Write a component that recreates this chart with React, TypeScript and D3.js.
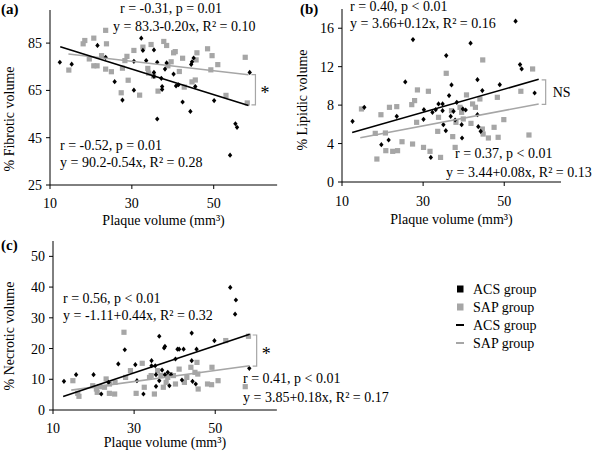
import React from 'react';
import * as d3 from 'd3';

type Pt = [number, number];

// Panel (a) fibrotic
const acsFibrotic: Pt[] = [
  [12.4, 76.9], [15.3, 76.1], [21.6, 84.0], [23.6, 79.0], [25.8, 68.7], [27.7, 60.9], [30.5, 77.3],
  [30.5, 65.1], [32.3, 87.1], [32.7, 81.9], [33.5, 77.6], [35.4, 82.1], [35.4, 72.6], [35.4, 70.9],
  [36.2, 76.9], [36.2, 52.9], [37.2, 70.1], [37.4, 66.6], [37.4, 65.4], [38.1, 74.0], [38.5, 76.6],
  [40.2, 71.9], [40.8, 66.9], [41.4, 67.4], [42.4, 60.1], [44.3, 56.1], [44.5, 76.0], [44.7, 77.1],
  [45.1, 78.7], [45.5, 66.6], [50.1, 60.7], [54.0, 37.6], [55.3, 50.9], [55.7, 49.4], [58.8, 72.6],
];
const sapFibrotic: Pt[] = [
  [14.6, 73.6], [18.1, 84.7], [18.5, 86.1], [19.6, 78.3], [20.7, 87.1], [20.7, 75.4], [21.5, 75.4],
  [22.6, 79.7], [23.6, 90.4], [23.8, 84.7], [23.6, 74.0], [25.0, 72.9], [27.7, 74.4], [27.4, 64.0],
  [28.3, 77.6], [28.8, 79.4], [29.1, 69.3], [30.5, 81.9], [31.9, 63.0], [32.7, 83.3], [33.9, 74.3],
  [34.1, 72.3], [34.7, 84.4], [35.3, 71.1], [36.4, 64.7], [37.8, 85.7], [38.5, 84.0], [38.8, 75.4],
  [39.6, 77.1], [40.2, 80.9], [40.6, 81.4], [41.6, 73.0], [42.4, 78.6], [42.8, 66.4], [44.7, 68.6],
  [45.5, 69.4], [45.7, 77.9], [45.9, 80.9], [48.5, 82.6], [49.3, 73.7], [49.6, 79.7], [51.0, 75.9],
  [53.0, 62.9], [57.7, 79.0], [58.2, 59.7],
];

// Panel (b) lipidic
const acsLipidic: Pt[] = [
  [12.6, 6.31], [15.5, 7.77], [19.7, 3.88], [21.5, 4.37], [23.5, 6.83], [25.6, 10.41], [27.5, 14.82],
  [30.1, 6.52], [30.2, 7.53], [31.9, 2.56], [32.3, 7.25], [33.1, 7.53], [33.8, 8.12], [34.8, 8.12],
  [34.8, 7.42], [35.0, 5.96], [35.6, 5.34], [35.7, 13.15], [36.4, 8.99], [36.8, 6.83], [37.0, 10.1],
  [37.5, 7.35], [37.9, 6.45], [38.3, 8.29], [39.5, 5.96], [39.6, 4.58], [39.8, 7.6], [40.5, 7.49],
  [41.7, 14.44], [43.4, 10.65], [43.4, 7.0], [43.6, 5.76], [44.2, 5.27], [44.6, 9.51], [48.9, 10.13],
  [52.8, 16.73], [53.9, 12.22], [54.3, 11.76], [57.5, 9.26],
];
const sapLipidic: Pt[] = [
  [14.8, 7.6], [18.2, 5.06], [18.6, 2.39], [19.6, 7.0], [20.7, 5.1], [20.8, 3.26], [21.7, 7.77],
  [22.5, 3.19], [23.5, 7.84], [23.7, 3.26], [24.8, 4.19], [27.2, 8.05], [27.4, 3.95], [27.9, 8.47],
  [28.4, 6.21], [28.6, 9.58], [30.1, 3.6], [31.3, 9.44], [31.7, 3.19], [33.6, 5.27], [33.8, 6.73],
  [34.3, 2.56], [35.7, 11.31], [37.0, 7.42], [37.3, 4.72], [37.9, 3.6], [38.1, 6.21], [39.1, 7.77],
  [39.5, 7.25], [39.9, 6.56], [40.7, 9.06], [41.8, 6.1], [42.2, 8.12], [42.9, 7.77], [44.0, 8.64],
  [44.7, 12.7], [44.6, 5.51], [44.8, 4.99], [46.1, 4.58], [47.5, 5.69], [48.3, 8.81], [48.5, 4.65],
  [49.9, 6.49], [54.1, 9.44], [56.1, 4.89], [57.0, 11.76],
];

// Panel (c) necrotic
const acsNecrotic: Pt[] = [
  [12.7, 9.33], [15.7, 11.5], [20.0, 11.5], [21.9, 5.2], [23.7, 9.0], [26.1, 15.0], [27.7, 19.6],
  [30.3, 14.75], [30.7, 9.54], [32.3, 5.2], [34.3, 16.05], [34.3, 14.4], [35.2, 14.4], [35.4, 11.5],
  [35.4, 7.7], [36.2, 24.0], [36.2, 9.54], [36.9, 13.0], [37.4, 20.2], [37.6, 20.7], [37.6, 11.5],
  [38.3, 12.25], [38.7, 7.9], [39.1, 11.5], [40.2, 16.6], [40.7, 19.8], [41.1, 19.8], [42.2, 19.8],
  [41.8, 9.76], [44.2, 16.05], [44.2, 25.05], [44.4, 9.33], [45.2, 8.46], [45.4, 19.8], [49.8, 22.56],
  [53.7, 39.9], [55.1, 35.8], [54.9, 31.2], [58.4, 13.56],
];
const sapNecrotic: Pt[] = [
  [14.9, 9.54], [16.1, 5.42], [16.4, 4.45], [19.8, 7.9], [20.7, 6.83], [20.9, 5.75], [21.5, 7.6],
  [22.7, 7.4], [23.1, 10.1], [23.9, 5.42], [23.9, 8.46], [25.2, 5.2], [25.3, 9.0], [27.5, 25.3],
  [27.9, 10.6], [29.1, 12.8], [30.5, 5.42], [32.0, 15.2], [32.5, 7.4], [33.8, 10.6], [34.2, 11.2],
  [35.0, 5.2], [35.8, 12.8], [36.6, 11.2], [37.2, 7.4], [37.9, 9.0], [38.3, 10.6], [38.9, 11.5],
  [39.7, 11.2], [40.2, 8.46], [41.1, 13.3], [42.4, 9.0], [43.0, 10.6], [44.0, 13.9], [45.0, 12.25],
  [45.5, 15.5], [45.7, 11.7], [45.8, 6.83], [48.1, 8.46], [49.1, 8.24], [49.2, 13.9], [50.7, 9.54],
  [52.6, 22.6], [57.4, 7.6], [58.2, 24.0],
];

// regression [intercept, slope]
const fitFibrotic = { acs: [90.2, -0.54], sap: [83.3, -0.2] };
const fitLipidic = { acs: [3.66, 0.12], sap: [3.44, 0.08] };
const fitNecrotic = { acs: [-1.11, 0.44], sap: [3.85, 0.18] };

const xTicks = [10, 30, 50];
const yTicksFibrotic = [25, 45, 65, 85];
const yTicksLipidic = [0, 4, 8, 12, 16];
const yTicksNecrotic = [0, 10, 20, 30, 40, 50];

const legendItems = ['ACS group', 'SAP group', 'ACS group', 'SAP group'];

const FONT = '"Liberation Serif", "Times New Roman", serif';
const GRAY = '#a6a6a6';

interface Note { text: string; x: number; y: number }

interface PanelProps {
  label: string;
  labelX: number;
  labelY: number;
  xRange: [number, number];
  xEnd: number;
  yDomain: [number, number];
  yRange: [number, number];
  yTicks: number[];
  yTitle: string;
  yTitleX: number;
  yTitleY: number;
  xTitleY: number;
  tickDy: number;
  acs: Pt[];
  sap: Pt[];
  fit: { acs: number[]; sap: number[] };
  acsSpan: [number, number];
  sapSpan: [number, number];
  notes: Note[];
  mark: string;
}

const Panel: React.FC<PanelProps> = (p) => {
  const x = d3.scaleLinear().domain([10, 64]).range(p.xRange);
  const y = d3.scaleLinear().domain(p.yDomain).range(p.yRange);
  const fitPath = (f: number[], span: [number, number]) =>
    d3.line<number>().x(d => x(d)).y(d => y(f[0] + f[1] * d))(span) || '';
  const x0 = p.xRange[0];
  const yb = p.yRange[0];
  const endX = 58;
  const bx = x(endX) + 9;
  const ya = y(p.fit.acs[0] + p.fit.acs[1] * endX);
  const ys = y(p.fit.sap[0] + p.fit.sap[1] * endX);
  const top = Math.min(ya, ys);
  const bot = Math.max(ya, ys);
  return (
    <g fontFamily={FONT} fontSize={14} fill="#000">
      <text x={p.labelX} y={p.labelY} fontWeight="bold" fontSize={15}>{p.label}</text>
      {/* axes */}
      <line x1={x0} x2={x0} y1={p.yRange[1]} y2={yb} stroke="#000" strokeWidth={1} />
      <line x1={x0} x2={x(p.xEnd)} y1={yb} y2={yb} stroke="#000" strokeWidth={1} />
      {p.yTicks.map(t => (
        <g key={'y' + t}>
          <line x1={x0 - 4} x2={x0} y1={y(t)} y2={y(t)} stroke="#000" />
          <text x={x0 - 8} y={y(t) + 5} textAnchor="end">{t}</text>
        </g>
      ))}
      {xTicks.map(t => (
        <g key={'x' + t}>
          <line x1={x(t)} x2={x(t)} y1={yb} y2={yb + 4} stroke="#000" />
          <text x={x(t)} y={yb + p.tickDy} textAnchor="middle">{t}</text>
        </g>
      ))}
      <text transform={`translate(${p.yTitleX},${p.yTitleY}) rotate(-90)`} textAnchor="middle">{p.yTitle}</text>
      <text x={(x0 + x(p.xEnd)) / 2} y={p.xTitleY} textAnchor="middle">Plaque volume (mm³)</text>
      {/* points */}
      {p.sap.map((d, i) => (
        <rect key={'s' + i} x={x(d[0]) - 2.6} y={y(d[1]) - 2.6} width={5.2} height={5.2} fill={GRAY} />
      ))}
      {p.acs.map((d, i) => {
        const cx = x(d[0]);
        const cy = y(d[1]);
        return (
          <path key={'a' + i} d={`M${cx},${cy - 2.6}L${cx + 2.2},${cy}L${cx},${cy + 2.6}L${cx - 2.2},${cy}Z`} fill="#000" />
        );
      })}
      {/* fits */}
      <path d={fitPath(p.fit.sap, p.sapSpan)} stroke={GRAY} strokeWidth={1.6} fill="none" />
      <path d={fitPath(p.fit.acs, p.acsSpan)} stroke="#000" strokeWidth={1.6} fill="none" />
      {/* bracket */}
      <path d={`M${bx - 4},${top}H${bx}V${bot}H${bx - 4}`} stroke={GRAY} strokeWidth={1.2} fill="none" />
      {p.mark === 'NS' ? (
        <text x={bx + 7} y={(top + bot) / 2 + 5}>NS</text>
      ) : (
        <text x={bx + 5} y={(top + bot) / 2 + 9} fontSize={18}>*</text>
      )}
      {p.notes.map((n, i) => (
        <text key={'n' + i} x={n.x} y={n.y}>{n.text}</text>
      ))}
    </g>
  );
};

export default function App() {
  return (
    <svg width={600} height={453} style={{ position: 'absolute', left: 0, top: 0, background: '#fff' }}>
      <Panel
        label="(a)" labelX={1} labelY={14}
        xRange={[50, 271]} xEnd={65.5} yDomain={[25, 99]} yRange={[185, 10]} yTicks={yTicksFibrotic}
        yTitle="% Fibrotic volume" yTitleX={14} yTitleY={119} xTitleY={225} tickDy={23}
        acs={acsFibrotic} sap={sapFibrotic} fit={fitFibrotic}
        acsSpan={[12.5, 58.5]} sapSpan={[14.5, 58.5]}
        notes={[
          { text: 'r = -0.31, p = 0.01', x: 120, y: 13 },
          { text: 'y = 83.3-0.20x, R² = 0.10', x: 113, y: 31 },
          { text: 'r = -0.52, p = 0.01', x: 60, y: 150 },
          { text: 'y = 90.2-0.54x, R² = 0.28', x: 60, y: 167 },
        ]}
        mark="*"
      />
      <Panel
        label="(b)" labelX={300} labelY={14}
        xRange={[342, 561]} xEnd={64} yDomain={[0, 18]} yRange={[182, 9]} yTicks={yTicksLipidic}
        yTitle="% Lipidic volume" yTitleX={307} yTitleY={100} xTitleY={224} tickDy={24}
        acs={acsLipidic} sap={sapLipidic} fit={fitLipidic}
        acsSpan={[12.5, 58.5]} sapSpan={[14.5, 58.5]}
        notes={[
          { text: 'r = 0.40, p < 0.01', x: 350, y: 11 },
          { text: 'y = 3.66+0.12x, R² = 0.16', x: 350, y: 28 },
          { text: 'r = 0.37, p < 0.01', x: 455, y: 158 },
          { text: 'y = 3.44+0.08x, R² = 0.13', x: 446, y: 177 },
        ]}
        mark="NS"
      />
      <Panel
        label="(c)" labelX={1} labelY={250}
        xRange={[53, 272]} xEnd={65.2} yDomain={[0, 55]} yRange={[410, 241]} yTicks={yTicksNecrotic}
        yTitle="% Necrotic volume" yTitleX={14} yTitleY={336} xTitleY={447} tickDy={23}
        acs={acsNecrotic} sap={sapNecrotic} fit={fitNecrotic}
        acsSpan={[12.5, 58.5]} sapSpan={[14.5, 58.5]}
        notes={[
          { text: 'r = 0.56, p < 0.01', x: 63, y: 303 },
          { text: 'y = -1.11+0.44x, R² = 0.32', x: 63, y: 320 },
          { text: 'r = 0.41, p < 0.01', x: 243, y: 383 },
          { text: 'y = 3.85+0.18x, R² = 0.17', x: 243, y: 402 },
        ]}
        mark="*"
      />
      <g fontFamily={FONT} fontSize={14}>
        {legendItems.map((t, i) => {
          const cy = 289 + i * 18;
          return (
            <g key={i}>
              {i < 2 ? (
                <rect x={457} y={cy - 3.5} width={6.5} height={7} fill={i === 0 ? '#000' : GRAY} />
              ) : (
                <line x1={456} x2={464} y1={cy} y2={cy} stroke={i === 2 ? '#000' : GRAY} strokeWidth={2} />
              )}
              <text x={473} y={cy + 5}>{t}</text>
            </g>
          );
        })}
      </g>
    </svg>
  );
}
